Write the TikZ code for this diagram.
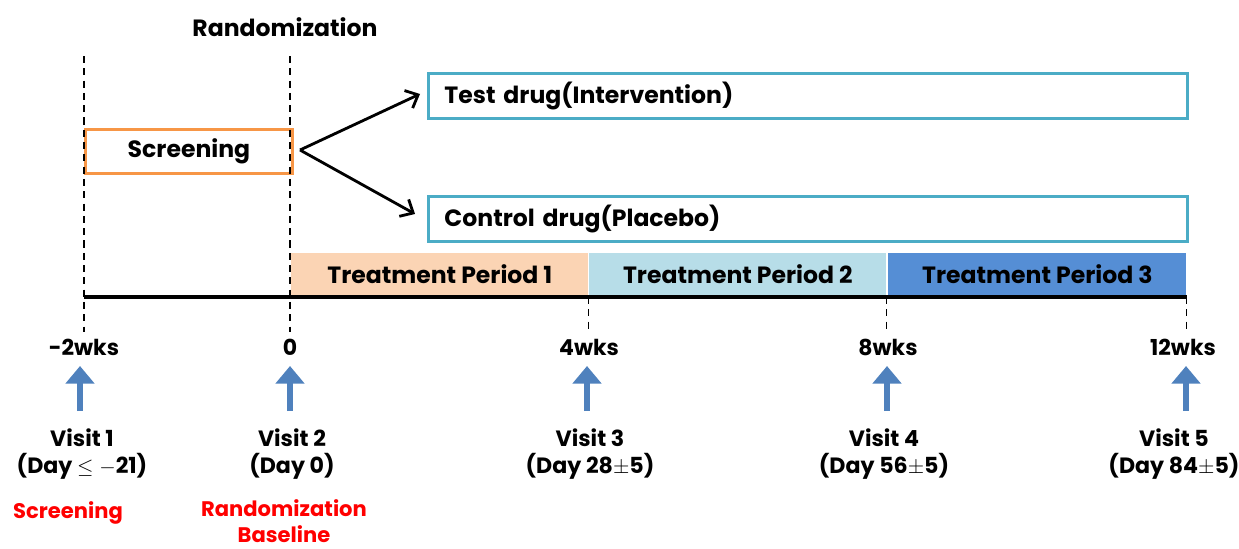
\documentclass[tikz,border=0pt]{standalone}
\usepackage{fontspec}
\setmainfont{Poppins}
\usetikzlibrary{arrows.meta, positioning}
\definecolor{screenorange}{RGB}{247,150,70}
\definecolor{armblue}{RGB}{75,172,198}
\definecolor{periodone}{RGB}{251,212,180}
\definecolor{periodtwo}{RGB}{183,221,232}
\definecolor{periodthree}{RGB}{85,142,213}
\definecolor{visitblue}{RGB}{79,129,189}
\definecolor{notered}{RGB}{255,0,0}

\begin{document}
\begin{tikzpicture}[x=0.02cm, y=-0.02cm, >={Straight Barb[length=6pt, width=11pt]},
    font=\bfseries\fontsize{13.4}{15.5}\selectfont,
    timeline/.style={dash pattern=on 4pt off 3pt, line width=0.9pt},
    armbox/.style={draw=armblue, line width=1.7pt, anchor=north west,
        text width=14.54cm, inner xsep=0.32cm, minimum height=0.9cm, align=left},
    periodbox/.style={anchor=south west, minimum height=0.88cm, inner sep=0pt},
    weeklabel/.style={font=\bfseries\fontsize{12.5}{15}\selectfont},
    visitarrow/.style={->, >={Triangle[width=16pt, length=10pt]}, line width=3.6pt, visitblue},
    visitlabel/.style={align=center, font=\bfseries\fontsize{12.6}{15.5}\selectfont},
    notelabel/.style={align=center, text=notered, inner sep=1pt, font=\bfseries\fontsize{12}{14.5}\selectfont}]
\useasboundingbox (0,0) rectangle (1239,548);

% screening and the two arms
\node[draw=screenorange, line width=1.7pt, anchor=north west, minimum width=4.14cm,
    minimum height=0.88cm] (screen) at (84,128) {Screening};
\node (rand) at (285,27) {Randomization};
\node[armbox] (test) at (427,72) {Test drug(Intervention)};
\node[armbox] (control) at (427,195) {Control drug(Placebo)};
\coordinate (fork) at (300,150);
\draw[->, line width=1.6pt] (fork) -- ([xshift=-0.14cm, yshift=0.04cm]test.west);
\draw[->, line width=1.6pt] (fork) -- ([xshift=-0.24cm, yshift=0.1cm]control.west);

% treatment periods
\foreach \x/\w/\c/\n in {291/5.94/periodone/1, 589/5.94/periodtwo/2, 888/5.96/periodthree/3}
{
    \node[periodbox, fill=\c, minimum width=\w cm] (period\n) at (\x,297) {Treatment Period \n};
}

% time axis
\foreach \x/\lab/\nm in {84/-2wks/wkm2, 290/0/wk0, 589/4wks/wk4, 888/8wks/wk8, 1183/12wks/wk12}
{
    \node[weeklabel] (\nm) at (\x,347) {\lab};
}
\draw[timeline] (84,56) -- (84,332);
\draw[timeline] (290,56) -- (290,332);
\draw[timeline] (period1.south east) -- ++(0,35);
\draw[timeline] (period2.south east) -- ++(0,35);
\draw[timeline] (period3.south east) -- ++(0,35);
\draw[line width=1.8pt] (84,297) -- (period3.south east);

% visits
\foreach \x/\n/\d in {82/1/{Day $\le-$21}, 292/2/{Day 0}, 590/3/{Day 28$\pm$5}, 884/4/{Day 56$\pm$5}, 1174/5/{Day 84$\pm$5}}
{
    \node[visitlabel] (visit\n) at (\x,454) {Visit \n\\(\d)};
}
\foreach \x/\n in {80/1, 290/2, 587/3, 887/4, 1186/5}
{
    \coordinate (tail\n) at (\x,411);
    \coordinate (tip\n) at (\x,366);
    \draw[visitarrow] (tail\n) -- (tip\n);
}
\node[notelabel] (noteone) at (68,513) {Screening};
\node[notelabel] (notetwo) at (284,521) {Randomization\\Baseline};
\end{tikzpicture}
\end{document}
